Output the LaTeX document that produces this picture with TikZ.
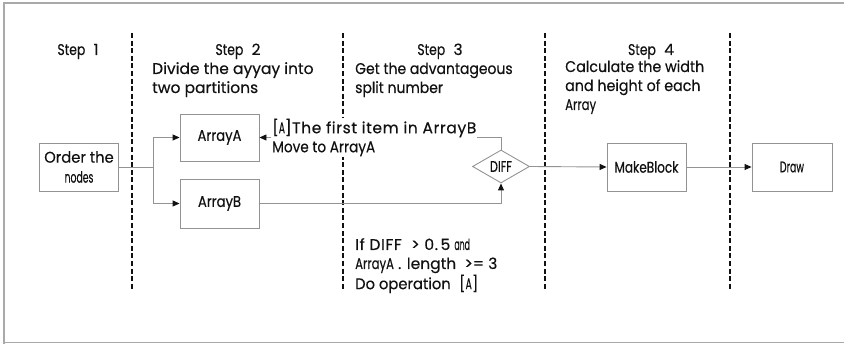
\documentclass[tikz,border=0pt]{standalone}
\usepackage{fontspec}
\setmainfont{Poppins}[FakeBold=0.4]
\usetikzlibrary{arrows.meta,shapes.geometric}
\definecolor{edge}{HTML}{939393}
\definecolor{ink}{HTML}{111111}
\newcommand{\narrow}[2][0.85]{\scalebox{#1}[1]{#2}}
% left-aligned lines whose baseline is that of the first line
\newcommand{\toplines}[1]{\begin{tabular}[t]{@{}l@{}}#1\end{tabular}}
\tikzset{
  x=1pt, y=-1pt,
  every node/.style={font=\fontsize{15.5}{19}\selectfont, text=ink, inner sep=0pt},
  block/.style={draw=edge, line width=0.9pt, minimum width=79pt, minimum height=48pt, align=center},
  decision/.style={draw=edge, line width=0.9pt, diamond, minimum width=57pt, minimum height=33pt, aspect=1.7},
  flow/.style={draw=edge, line width=0.9pt, -{Triangle[length=7pt,width=6pt,color=ink]}},
  wire/.style={draw=edge, line width=0.9pt},
  lane/.style={draw=ink, line width=2.3pt, dash pattern=on 5pt off 2.6pt},
  notes/.style={anchor=base west},
}
\begin{document}
\begin{tikzpicture}
\useasboundingbox (0,0) rectangle (844,344);
% outer frame
\draw[edge!80, line width=1.6pt] (4,850) -- (4,3) -- (900,3);
\draw[edge!80, line width=1.6pt] (4,342.5) -- (900,342.5);

% lane separators
\foreach \lx/\nm in {132/sa,343/sb,545/sc,730/sd}{
  \coordinate (\nm top) at (\lx,33);
  \coordinate (\nm bot) at (\lx,290);
  \draw[lane] (\nm top) -- (\nm bot);
}

% lane headings
\node[anchor=base] (h1) at (78,55) {\narrow[0.8]{Step}\ \ 1};
\node[anchor=base] (h2) at (238,55) {\narrow[0.8]{Step}\ \ 2};
\node[anchor=base] (h3) at (440,55) {\narrow[0.8]{Step}\ \ 3};
\node[anchor=base] (h4) at (651,55) {\narrow[0.8]{Step}\ \ 4};
\node[notes] (t2) at (152,74) {\toplines{Divide the ayyay into\\two partitions}};
\node[notes] (t3) at (355,74) {\toplines{\narrow[0.9]{Get the advantageous}\\\narrow[0.9]{split number}}};
\node[notes] (t4) at (565,72) {\toplines{\narrow[0.92]{Calculate the width}\\\narrow[0.92]{and height of each}\\\narrow[0.75]{Array}}};

% blocks
\node[block] (order) at (79,167) {\narrow[0.95]{Order the}\\[1pt]\narrow[0.6]{nodes}};
\node[block, minimum height=47pt] (arrA) at (219.5,137.5) {\narrow[0.85]{ArrayA}};
\node[block, minimum height=49pt] (arrB) at (219.5,203.5) {\narrow[0.85]{ArrayB}};
\node[decision] (diff) at (501,166.5) {\narrow[0.72]{DIFF}};
\node[block] (make) at (646.5,167) {\narrow[0.78]{MakeBlock}};
\node[block, minimum width=80pt] (drawbox) at (792,167) {\narrow[0.6]{Draw}};

% connectors
\coordinate (split) at (153,167);
\draw[wire] (order.east) -- (split);
\draw[flow] (split) |- (arrA.west);
\draw[flow] (split) |- (arrB.west);
\draw[flow] (arrB.east) -| (diff.south);
\draw[flow] (diff.north) |- (arrA.east);
\draw[flow] (diff.east) -- (make.west);
\draw[flow] (make.east) -- (drawbox.west);

% move label on the feedback connector
\node[align=left, anchor=west, fill=white, inner sep=1pt] (movelbl) at (271,137.5)
  {{\addfontfeature{LetterSpace=4}[\narrow[0.6]{A}]The first item in ArrayB}\\\narrow[0.88]{Move to ArrayA}};

% condition
\node[notes] (cond) at (355,250)
  {\toplines{{\addfontfeature{LetterSpace=4}If DIFF\ \ > 0.\,5} \narrow[0.5]{and}\\
   \narrow[0.75]{ArrayA} . length\ \ >= 3\\
   \narrow[0.95]{Do operation}\ \ [\narrow[0.6]{A}]}};
\end{tikzpicture}
\end{document}
